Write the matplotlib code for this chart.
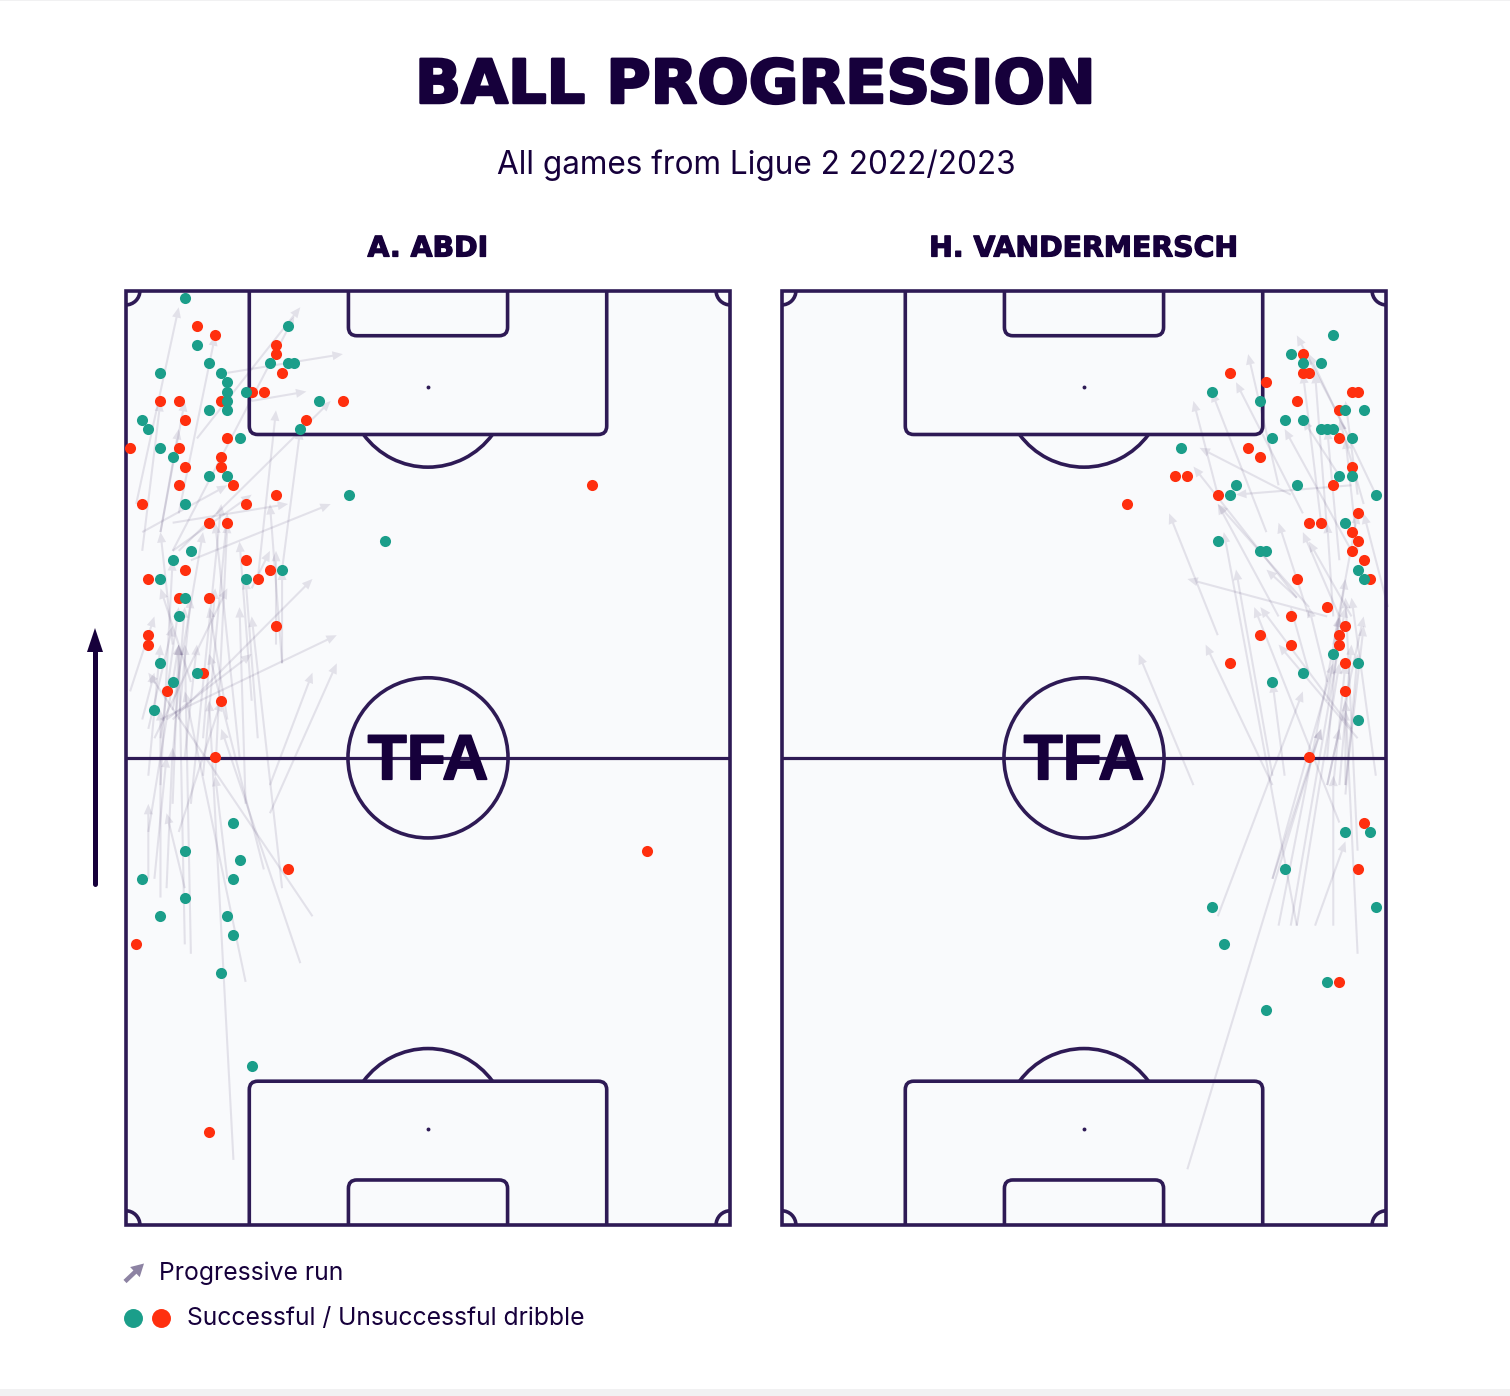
import matplotlib
matplotlib.use("Agg")
import matplotlib.pyplot as plt
import matplotlib.patheffects as pe
from matplotlib.patches import Rectangle, Circle, Arc, PathPatch, FancyArrowPatch, Polygon
from matplotlib.path import Path
from matplotlib.lines import Line2D

TITLE = "BALL PROGRESSION"
SUBTITLE = "All games from Ligue 2 2022/2023"
PLAYERS = ["A. ABDI", "H. VANDERMERSCH"]
LEGEND_RUN = "Progressive run"
LEGEND_DRIBBLE = "Successful / Unsuccessful dribble"

# dribbles: width % (x) and length % (y)
abdi_ok_x = [10,12,27,14,16,6,17,17,17,17,14,20,24,27,28,32,29,3,4,19,6,8,14,17,10,37,43,11,8,6,20,26,10,9,6,12,8,5,18,10,19,3,18,10,6,17,18,16,21]
abdi_ok_y = [99,94,96,92,91,91,90,89,88,87,87,89,92,92,92,88,85,86,85,84,83,82,80,80,77,78,73,72,71,69,69,70,67,65,60,59,58,55,43,40,39,37,37,35,33,33,31,27,17]
abdi_ko_x = [12,15,25,25,26,21,23,6,9,16,36,10,30,17,1,9,16,16,10,9,18,25,3,20,14,17,20,10,24,4,22,9,14,25,4,4,13,7,16,15,77,86,27,2,14]
abdi_ko_y = [96,95,94,93,91,89,89,88,88,88,88,86,86,84,83,83,82,81,81,79,79,78,77,77,75,75,71,70,70,69,69,67,67,64,63,62,59,57,56,50,79,40,38,30,10]

vand_ok_x = [91,84,86,89,71,79,93,96,83,86,89,90,91,81,94,66,92,94,75,85,74,98,93,72,79,80,95,96,91,95,86,81,95,93,97,83,71,73,98,90,80]
vand_ok_y = [95,93,92,92,89,88,87,87,86,86,85,85,85,84,84,83,80,80,79,79,78,78,75,73,72,72,70,69,61,60,59,58,54,42,42,38,34,30,34,26,23]
vand_ko_x = [86,86,87,74,80,94,95,85,92,92,77,79,94,65,67,91,72,57,95,87,89,94,95,94,96,97,85,90,84,93,92,92,79,84,74,93,93,87,96,95,92]
vand_ko_y = [93,91,91,91,90,89,89,88,87,84,83,82,81,80,80,79,78,77,76,75,75,74,73,72,71,69,69,66,65,64,63,62,63,62,60,60,57,50,43,38,26]

# progressive runs: start and end, width % and length %
abdi_run_x0 = [31,29,20,26,23,18,11,10,6,10,7,5,4,4,9,24,24,26,20,8,6,7,5,1,3,4,17,3,2,6,6,9,12,8,17,21,9,22,26,8,11,8,3,21,11,13,8,8,6,15,19,9,8,10,4,6,8,17,13,11,22,26,25,21]
abdi_run_y0 = [33,28,26,36,38,7,29,30,35,36,36,37,37,42,42,47,44,60,45,54,54,54,52,57,54,53,37,72,77,74,74,76,84,72,91,88,72,69,70,75,71,72,74,68,45,48,55,62,47,48,50,54,50,50,48,52,45,54,52,58,52,60,62,56]
abdi_run_x1 = [4,16,10,21,14,14,10,9,6,7,8,7,4,9,16,31,35,24,19,31,35,21,17,5,5,8,15,6,9,10,9,15,29,28,36,30,34,25,29,27,34,21,17,24,16,17,13,6,8,17,15,11,10,12,6,9,9,14,15,6,20,26,25,19]
abdi_run_y1 = [59,53,57,65,61,56,62,62,55,44,51,50,45,62,56,59,60,77,66,69,63,61,68,65,59,64,48,88,98,88,85,95,98,97,93,89,88,87,85,77,77,78,79,72,77,76,74,74,71,75,75,67,66,62,62,66,62,66,68,68,69,70,72,73]

vand_run_x0 = [98,93,82,86,80,72,94,92,84,94,85,87,82,72,85,87,92,94,91,91,95,96,89,90,92,95,90,81,85,92,90,68,81,83,72,67,90,93,90,94,100,98,82,84,85,88,91,95,81,81,92,93,91,95,93,90,90,87,95]
vand_run_y0 = [78,85,79,76,74,78,72,80,78,79,67,66,65,63,32,65,65,65,65,62,78,77,75,74,71,72,65,48,67,43,58,47,47,48,33,6,47,47,47,53,66,48,32,32,32,32,32,29,37,37,47,46,47,40,47,56,50,59,52]
vand_run_x1 = [87,85,77,75,71,68,83,86,69,75,68,72,72,64,73,82,86,87,90,95,93,92,86,88,90,93,67,75,80,78,87,59,70,81,86,89,92,93,96,79,96,94,92,93,92,93,91,93,89,91,94,95,93,93,96,93,92,84,82]
vand_run_y1 = [93,95,93,90,89,88,85,86,83,78,81,77,77,76,74,75,74,73,75,76,88,86,91,91,85,84,69,70,70,66,66,61,62,58,57,53,53,55,65,66,76,67,65,66,60,41,48,56,53,60,62,61,60,67,64,69,65,66,62]

INK = "#16003b"
LINE = "#2e1a55"
PITCH = "#f9fafc"
GREEN = "#1b9e8a"
RED = "#ff2f0e"
W, H = 1510, 1396

plt.rcParams['font.family'] = ['Inter', 'DejaVu Sans']
fig = plt.figure(figsize=(W / 100, H / 100), dpi=100, facecolor="white")


def fx(p):
    return p / W


def fy(p):
    return 1 - p / H


def axes_px(left, right, top, bottom, **kw):
    return fig.add_axes([fx(left), fy(bottom), (right - left) / W, (bottom - top) / H], **kw)


def box_path(x0, x1, y_line, y_end, r):
    """Open three-sided box with rounded corners."""
    s = 1 if y_line > y_end else -1
    verts = [(x0, y_end), (x0, y_line - s * r), (x0, y_line), (x0 + r, y_line),
             (x1 - r, y_line), (x1, y_line), (x1, y_line - s * r), (x1, y_end)]
    codes = [Path.MOVETO, Path.LINETO, Path.CURVE3, Path.CURVE3,
             Path.LINETO, Path.CURVE3, Path.CURVE3, Path.LINETO]
    return Path(verts, codes)


def draw_pitch(ax):
    lw = 2.6
    kw = dict(edgecolor=LINE, facecolor="none", linewidth=lw, clip_on=False)
    ax.set_xlim(0, 68)
    ax.set_ylim(0, 105)
    ax.axis("off")
    ax.add_patch(Rectangle((0, 0), 68, 105, facecolor=PITCH, edgecolor="none", clip_on=False, zorder=0))
    ax.add_patch(Rectangle((0, 0), 68, 105, zorder=3, **kw))
    ax.plot([0, 68], [52.5, 52.5], color=LINE, lw=2.3, zorder=3, solid_capstyle="butt")
    ax.add_patch(Circle((34, 52.5), 9.0, zorder=3, **kw))
    for spot, a0, a1, yl, ye, ys, y6e in [(10.83, 36.3, 143.7, 16.16, 0, 5.06, 0),
                                          (94.17, 216.3, 323.7, 88.84, 105, 99.94, 105)]:
        ax.add_patch(Arc((34, spot), 18, 18, theta1=a0, theta2=a1, edgecolor=LINE, lw=lw, zorder=3))
        ax.add_patch(PathPatch(box_path(13.9, 54.1, yl, ye, 0.95), zorder=3, **kw))
        ax.add_patch(PathPatch(box_path(25.05, 42.95, ys, y6e, 0.95), zorder=3, **kw))
        ax.plot([34], [spot], "o", ms=2.8, color=LINE, mew=0, zorder=3)
    for cx, cy, a0, a1 in [(0, 0, 0, 90), (68, 0, 90, 180), (0, 105, 270, 360), (68, 105, 180, 270)]:
        ax.add_patch(Arc((cx, cy), 3.2, 3.2, theta1=a0, theta2=a1, edgecolor=LINE, lw=lw, zorder=3))
    ax.text(34, 52.0, "TFA", ha="center", va="center", color=INK, fontsize=46, fontweight="bold",
            family="Liberation Sans", zorder=4,
            path_effects=[pe.withStroke(linewidth=1.2, foreground=INK)])


def draw_data(ax, rx0, ry0, rx1, ry1, okx, oky, kox, koy):
    ax.set_xlim(0, 100)
    ax.set_ylim(0, 100)
    ax.axis("off")
    ax.patch.set_alpha(0)
    for a, b, c, d in zip(rx0, ry0, rx1, ry1):
        ax.add_patch(FancyArrowPatch((a, b), (c, d),
                                     arrowstyle="simple,head_length=7.5,head_width=6.5,tail_width=1.5",
                                     mutation_scale=1, shrinkA=0, shrinkB=0, lw=0,
                                     color=LINE, alpha=0.11, zorder=2, clip_on=False))
    ax.scatter(kox, koy, s=64, color=RED, linewidths=0, zorder=5, clip_on=False)
    ax.scatter(okx, oky, s=64, color=GREEN, linewidths=0, zorder=5, clip_on=False)


panels = [
    (0, abdi_run_x0, abdi_run_y0, abdi_run_x1, abdi_run_y1, abdi_ok_x, abdi_ok_y, abdi_ko_x, abdi_ko_y),
    (656, vand_run_x0, vand_run_y0, vand_run_x1, vand_run_y1, vand_ok_x, vand_ok_y, vand_ko_x, vand_ko_y),
]
heavy = [pe.withStroke(linewidth=0.9, foreground=INK)]
for i, (off, *vals) in enumerate(panels):
    pitch_ax = axes_px(125.7 + off, 730.3 + off, 290.7, 1225, zorder=1)
    draw_pitch(pitch_ax)
    data_ax = axes_px(124 + off, 732 + off, 288.5, 1225.5, zorder=2)
    draw_data(data_ax, *vals)
    fig.text(fx(428 + off), fy(248.5), PLAYERS[i], ha="center", va="center", color=INK,
             fontsize=20.4, fontweight="bold", family="DejaVu Sans", path_effects=heavy)

fig.text(fx(755), fy(86.5), TITLE, ha="center", va="center", color=INK, fontsize=43.6,
         fontweight="bold", family="DejaVu Sans",
         path_effects=[pe.withStroke(linewidth=1.8, foreground=INK)])
fig.text(fx(756), fy(165), SUBTITLE, ha="center", va="center", color=INK, fontsize=22.7)

# direction-of-play arrow
fig.add_artist(Line2D([fx(95), fx(95)], [fy(884), fy(650)], color=INK, lw=3.6,
                      solid_capstyle="round", transform=fig.transFigure))
fig.add_artist(Polygon([(fx(95), fy(628)), (fx(87), fy(652)), (fx(103), fy(652))], closed=True,
                       facecolor=INK, edgecolor="none", transform=fig.transFigure))

# legend
fig.add_artist(FancyArrowPatch((fx(125), fy(1281.5)), (fx(144), fy(1263.5)), transform=fig.transFigure,
                               arrowstyle="simple,head_length=9,head_width=10,tail_width=3.2",
                               mutation_scale=1, shrinkA=0, shrinkB=0, lw=0, color="#8d83a3"))
leg_ax = axes_px(120, 180, 1300, 1336)
leg_ax.set_xlim(120, 180)
leg_ax.set_ylim(1336, 1300)
leg_ax.axis("off")
leg_ax.scatter([133.3], [1318], s=186, color=GREEN, linewidths=0)
leg_ax.scatter([160.5], [1318], s=186, color=RED, linewidths=0)
fig.text(fx(159), fy(1273.5), LEGEND_RUN, ha="left", va="center", color=INK, fontsize=17.8)
fig.text(fx(187), fy(1318.5), LEGEND_DRIBBLE, ha="left", va="center", color=INK, fontsize=17.75)

# faint page edges
fig.add_artist(Rectangle((0, 0), 1, 7 / H, transform=fig.transFigure, facecolor="#f1f1f2", edgecolor="none"))
fig.add_artist(Rectangle((0, 1 - 1 / H), 1, 1 / H, transform=fig.transFigure, facecolor="#f1f1f2", edgecolor="none"))

fig.savefig("out.png", dpi=100, facecolor="white")
